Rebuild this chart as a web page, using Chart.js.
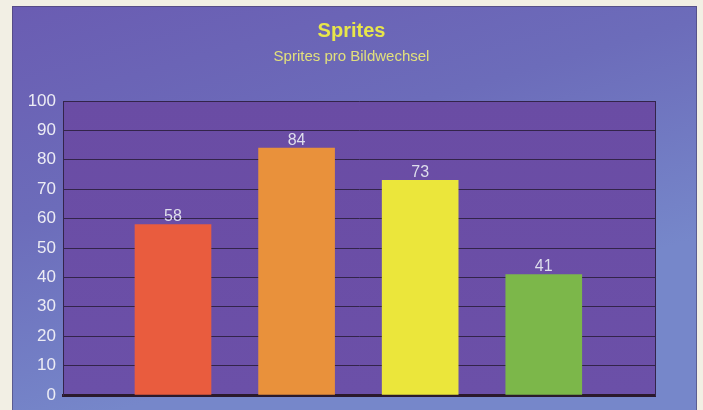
<!DOCTYPE html>
<html>
<head>
<meta charset="utf-8">
<script src="https://cdn.jsdelivr.net/npm/chart.js@4"></script>
<style>
  html, body { margin: 0; padding: 0; background: #f2efe4; }
  #wrap { width: 703px; height: 410px; }
</style>
</head>
<body>
<div id="wrap"><canvas id="chartSprites" width="703" height="410"></canvas></div>
<script>
// sprites per frame, one bar per slot
const slots = [1, 2, 3, 4];
const spriteValues = [58, 84, 73, 41];
const barColors = ['#e95c3e', '#e9913b', '#ebe63b', '#7cb74a'];
const yTicks = [0, 10, 20, 30, 40, 50, 60, 70, 80, 90, 100];

const FONT = '"Liberation Sans", Arial, sans-serif';

// cream page edge, blue card, purple plot panel
const backdrop = {
  id: 'backdrop',
  beforeDraw(chart) {
    const { ctx, chartArea: a } = chart;
    ctx.save();
    ctx.fillStyle = '#f2efe4';
    ctx.fillRect(0, 0, chart.width, chart.height);
    const g = ctx.createLinearGradient(0, 6, 120, 410);
    g.addColorStop(0, '#6a5cb2');
    g.addColorStop(0.5, '#6c6cba');
    g.addColorStop(1, '#7687ca');
    ctx.fillStyle = g;
    ctx.fillRect(12, 6, 685, 404);
    ctx.strokeStyle = 'rgba(70, 60, 100, 0.55)';
    ctx.lineWidth = 1;
    ctx.strokeRect(12.5, 6.5, 684, 410);
    const p = ctx.createLinearGradient(0, a.top, 0, a.bottom);
    p.addColorStop(0, '#6a4ca4');
    p.addColorStop(1, '#6b50a8');
    ctx.fillStyle = p;
    ctx.fillRect(a.left, a.top, a.right - a.left, a.bottom - a.top);
    ctx.restore();
  }
};

// value printed just above each bar
const valueLabels = {
  id: 'valueLabels',
  afterDatasetsDraw(chart) {
    const { ctx } = chart;
    const meta = chart.getDatasetMeta(0);
    ctx.save();
    ctx.font = '16px ' + FONT;
    ctx.fillStyle = '#dedeec';
    ctx.textAlign = 'center';
    ctx.textBaseline = 'alphabetic';
    meta.data.forEach((bar, i) => {
      ctx.fillText(String(spriteValues[i]), bar.x, bar.y - 3);
    });
    ctx.restore();
  }
};

new Chart(document.getElementById('chartSprites').getContext('2d'), {
  type: 'bar',
  data: {
    datasets: [{
      data: slots.map((s, i) => ({ x: s, y: spriteValues[i] })),
      backgroundColor: barColors,
      borderWidth: 0,
      barThickness: 76
    }]
  },
  options: {
    responsive: false,
    animation: false,
    layout: { padding: 0 },
    plugins: {
      legend: { display: false },
      tooltip: { enabled: false },
      title: {
        display: true,
        text: 'Sprites',
        color: '#e8e64a',
        font: { family: FONT, size: 20, weight: 'bold' },
        padding: { top: 19, bottom: 4 }
      },
      subtitle: {
        display: true,
        text: 'Sprites pro Bildwechsel',
        color: '#e2e07c',
        font: { family: FONT, size: 15 },
        padding: { top: 1, bottom: 35 }
      }
    },
    scales: {
      x: {
        type: 'linear',
        offset: false,
        min: 0.11,
        max: 4.9,
        grid: { display: false },
        ticks: { display: false },
        border: { display: true, color: '#2a1a2c', width: 3 },
        afterFit(s) { s.height = 15; }
      },
      y: {
        min: 0,
        max: 100,
        afterBuildTicks(s) { s.ticks = yTicks.map(v => ({ value: v })); },
        grid: { color: '#33244a', lineWidth: 1, drawTicks: false },
        border: { display: true, color: '#33244a', width: 1 },
        ticks: {
          color: '#ececf4',
          padding: 7,
          font: { family: FONT, size: 17 }
        },
        afterFit(s) {
          s.width = 63;
          s.paddingTop = 0;
          s.paddingBottom = 0;
        }
      },
      y2: {
        position: 'right',
        min: 0,
        max: 100,
        grid: { display: false },
        ticks: { display: false },
        border: { display: true, color: '#33244a', width: 1 },
        afterFit(s) { s.width = 48; }
      }
    }
  },
  plugins: [backdrop, valueLabels]
});
</script>
</body>
</html>
